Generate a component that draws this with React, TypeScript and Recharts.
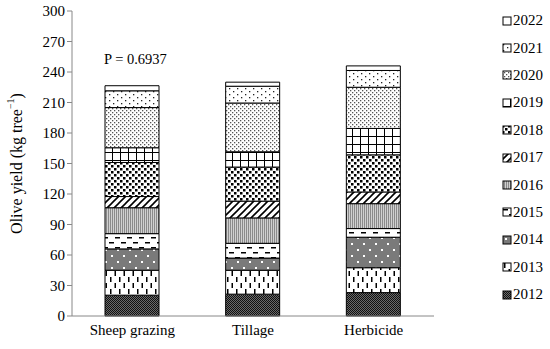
import React from 'react'
import { BarChart, Bar, XAxis, YAxis, Legend, Label } from 'recharts'

const treatments = ['Sheep grazing', 'Tillage', 'Herbicide']
const years = ['2012', '2013', '2014', '2015', '2016', '2017', '2018', '2019', '2020', '2021', '2022']

// yield per year, in treatment order
const y2012 = [20.5, 21.5, 23]
const y2013 = [24.5, 23.5, 24.5]
const y2014 = [21, 12, 30]
const y2015 = [15, 14.5, 8.5]
const y2016 = [25.5, 25, 24.5]
const y2017 = [11, 16.5, 11.5]
const y2018 = [33.5, 33.5, 36.5]
const y2019 = [14.5, 15, 26]
const y2020 = [39.5, 48, 40.5]
const y2021 = [16.5, 16.5, 16.5]
const y2022 = [5, 4, 4.5]

const yTicks = [0, 30, 60, 90, 120, 150, 180, 210, 240, 270, 300]
const edgeTicks = [0, 1, 2, 3]
const pValue = 'P = 0.6937'

const series = [y2012, y2013, y2014, y2015, y2016, y2017, y2018, y2019, y2020, y2021, y2022]

const data = treatments.map((t, i) => {
  const row: Record<string, string | number> = { name: t }
  years.forEach((y, k) => { row[y] = series[k][i] })
  return row
})

const FONT = "'Liberation Serif', 'Times New Roman', serif"

function Patterns() {
  return (
    <defs>
      <pattern id="p2012" width="2" height="2" patternUnits="userSpaceOnUse">
        <rect width="2" height="2" fill="#6a6a6a" />
        <rect x="0" y="0" width="1" height="1" fill="#111" />
        <rect x="1" y="1" width="1" height="1" fill="#111" />
      </pattern>
      <pattern id="p2013" width="9" height="12" patternUnits="userSpaceOnUse">
        <rect width="9" height="12" fill="#fff" />
        <rect x="2" y="1" width="1.5" height="5" fill="#000" />
        <rect x="6.5" y="7" width="1.5" height="5" fill="#000" />
      </pattern>
      <pattern id="p2014" width="12" height="12" patternUnits="userSpaceOnUse">
        <rect width="12" height="12" fill="#7a7a7a" />
        <rect x="3" y="3" width="2" height="2" fill="#fff" />
        <rect x="9" y="9" width="2" height="2" fill="#fff" />
      </pattern>
      <pattern id="p2015" width="12" height="10" patternUnits="userSpaceOnUse">
        <rect width="12" height="10" fill="#fff" />
        <rect x="1" y="2" width="5" height="1.5" fill="#000" />
        <rect x="7" y="7" width="5" height="1.5" fill="#000" />
      </pattern>
      <pattern id="p2016" width="2" height="2" patternUnits="userSpaceOnUse">
        <rect width="2" height="2" fill="#d0d0d0" />
        <rect x="0" y="0" width="1" height="2" fill="#8a8a8a" />
      </pattern>
      <pattern id="p2017" width="7" height="7" patternUnits="userSpaceOnUse">
        <rect width="7" height="7" fill="#fff" />
        <path d="M-1,8 L8,-1 M-1,1 L1,-1 M6,8 L8,6" stroke="#000" strokeWidth="1.6" />
      </pattern>
      <pattern id="p2018" width="6" height="6" patternUnits="userSpaceOnUse">
        <rect width="6" height="6" fill="#fff" />
        <rect x="0" y="0" width="2.5" height="2.5" fill="#000" />
        <rect x="3" y="3" width="2.5" height="2.5" fill="#000" />
      </pattern>
      <pattern id="p2019" width="8" height="8" patternUnits="userSpaceOnUse">
        <rect width="8" height="8" fill="#fff" />
        <path d="M0,0 L0,8 M0,0 L8,0" stroke="#000" strokeWidth="2" />
      </pattern>
      <pattern id="p2020" width="4" height="4" patternUnits="userSpaceOnUse">
        <rect width="4" height="4" fill="#fff" />
        <rect x="0" y="0" width="1.3" height="1.3" fill="#555" />
        <rect x="2" y="2" width="1.3" height="1.3" fill="#555" />
      </pattern>
      <pattern id="p2021" width="8" height="6" patternUnits="userSpaceOnUse">
        <rect width="8" height="6" fill="#fff" />
        <rect x="1" y="1" width="1.3" height="1.3" fill="#222" />
        <rect x="5" y="4" width="1.3" height="1.3" fill="#222" />
      </pattern>
      <pattern id="p2022" width="4" height="4" patternUnits="userSpaceOnUse">
        <rect width="4" height="4" fill="#fff" />
      </pattern>
    </defs>
  )
}

function YLabel(props: any) {
  const vb = props.viewBox || {}
  const cx = 16
  const cy = (vb.y ?? 11) + (vb.height ?? 305) / 2
  return (
    <text
      x={cx}
      y={cy}
      transform={`rotate(-90, ${cx}, ${cy})`}
      textAnchor="middle"
      dominantBaseline="central"
      fontFamily={FONT}
      fontSize={16}
      fill="#000"
    >
      Olive yield (kg tree
      <tspan fontSize={10} dy={-6}>−1</tspan>
      <tspan dy={6}>)</tspan>
    </text>
  )
}

function LegendBox() {
  const items = [...years].reverse()
  return (
    <div style={{ fontFamily: FONT, fontSize: 15, color: '#000' }}>
      {items.map((y) => (
        <div key={y} style={{ display: 'flex', alignItems: 'center', height: 27.4 }}>
          <svg width={10} height={10} style={{ marginRight: 1 }}>
            <rect x={1} y={1} width={8} height={8} fill={`url(#p${y})`} stroke="#000" strokeWidth={1} />
          </svg>
          <span>{y}</span>
        </div>
      ))}
    </div>
  )
}

export default function App() {
  return (
    <div style={{ position: 'absolute', left: 0, top: 0, width: 550, height: 349, background: '#fff' }}>
      <BarChart
        width={550}
        height={349}
        data={data}
        margin={{ top: 11, right: 68, left: 0, bottom: 3 }}
        barSize={54}
      >
        <Patterns />
        <XAxis
          xAxisId="edge"
          type="number"
          domain={[0, 3]}
          ticks={edgeTicks}
          tick={false}
          tickSize={5}
          height={0}
          axisLine={false}
          tickLine={{ stroke: '#888' }}
        />
        <XAxis
          xAxisId="cat"
          dataKey="name"
          tickLine={false}
          axisLine={{ stroke: '#888' }}
          tick={{ fill: '#000', fontSize: 15, fontFamily: FONT }}
          tickSize={6}
          tickMargin={2}
          height={30}
        />
        <YAxis
          width={72}
          domain={[0, 300]}
          ticks={yTicks}
          interval={0}
          tickSize={5}
          tickLine={{ stroke: '#888' }}
          axisLine={{ stroke: '#888' }}
          tick={{ fill: '#000', fontSize: 15, fontFamily: FONT }}
        >
          <Label content={<YLabel />} />
        </YAxis>
        <Legend
          layout="vertical"
          align="right"
          verticalAlign="top"
          wrapperStyle={{ left: 502, top: 7, width: 48 }}
          content={() => <LegendBox />}
        />
        {years.map((y) => (
          <Bar
            key={y}
            xAxisId="cat"
            dataKey={y}
            stackId="a"
            fill={`url(#p${y})`}
            stroke="#000"
            strokeWidth={1}
            isAnimationActive={false}
          />
        ))}
      </BarChart>
      <div
        style={{
          position: 'absolute',
          left: 104,
          top: 51,
          fontFamily: FONT,
          fontSize: 14.5,
          color: '#000',
        }}
      >
        {pValue}
      </div>
    </div>
  )
}
